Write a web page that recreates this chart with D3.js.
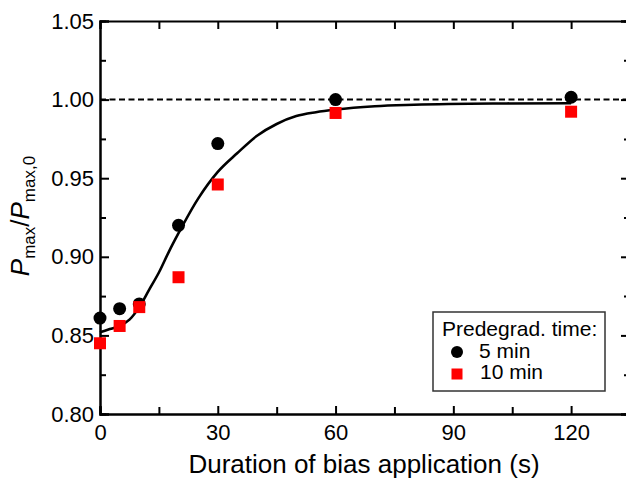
<!DOCTYPE html>
<html>
<head>
<meta charset="utf-8">
<script src="https://cdn.jsdelivr.net/npm/d3@7"></script>
<style>
  body { margin: 0; background: #fff; }
  svg { font-family: "Liberation Sans", Arial, Helvetica, sans-serif; }
</style>
</head>
<body>
<div class="canvas"></div>
<script>
// data
var durations = [0, 5, 10, 20, 30, 60, 120];
var pred5min = [0.861, 0.867, 0.870, 0.920, 0.972, 1.000, 1.0015];
var pred10min = [0.845, 0.856, 0.868, 0.887, 0.946, 0.9915, 0.9923];
// fitted curve (traced)
var fitX = [0, 2.5, 5, 7.5, 10, 12.5, 15, 17.5, 20, 25, 30, 35, 40, 45, 50, 55, 60, 70, 80, 100, 120];
var fitY = [0.852, 0.854, 0.856, 0.860, 0.868, 0.879, 0.890, 0.903, 0.915, 0.937, 0.954, 0.966, 0.977, 0.9845, 0.9895, 0.992, 0.9937, 0.9958, 0.9967, 0.9975, 0.9977];
var xTicks = [0, 30, 60, 90, 120];
var xMinor = [15, 45, 75, 105, 135];
var yTicks = [0.80, 0.85, 0.90, 0.95, 1.00, 1.05];
var yMinor = [0.825, 0.875, 0.925, 0.975, 1.025];
var legendTitle = "Predegrad. time:";
var seriesNames = ["5 min", "10 min"];

var svgWidth = 626, svgHeight = 481;
var plotL = 100, plotR = 630, plotT = 21, plotB = 414;

var svg = d3.select(".canvas").append("svg")
    .attr("width", svgWidth)
    .attr("height", svgHeight);

var x = d3.scaleLinear().domain([0, 135]).range([plotL, plotR]);
var y = d3.scaleLinear().domain([0.80, 1.05]).range([plotB, plotT]);

// axes, ticks pointing inward
svg.append("g").attr("transform", "translate(0," + plotB + ")")
    .call(d3.axisBottom(x).tickValues(xTicks).tickSize(-8).tickPadding(10).tickFormat(d3.format("d")));
svg.append("g").attr("transform", "translate(0," + plotB + ")")
    .call(d3.axisBottom(x).tickValues(xMinor).tickSize(-7).tickFormat(""));
svg.append("g").attr("transform", "translate(0," + plotT + ")")
    .call(d3.axisTop(x).tickValues(xTicks.concat(xMinor)).tickSize(-8).tickFormat(""));
svg.append("g").attr("transform", "translate(" + plotL + ",0)")
    .call(d3.axisLeft(y).tickValues(yTicks).tickSize(-9).tickPadding(6).tickFormat(d3.format(".2f")));
svg.append("g").attr("transform", "translate(" + plotL + ",0)")
    .call(d3.axisLeft(y).tickValues(yMinor).tickSize(-6).tickFormat(""));
svg.append("g").attr("transform", "translate(" + plotR + ",0)")
    .call(d3.axisRight(y).tickValues(yTicks).tickSize(-9).tickFormat(""));
svg.append("g").attr("transform", "translate(" + plotR + ",0)")
    .call(d3.axisRight(y).tickValues(yMinor).tickSize(-6).tickFormat(""));

svg.selectAll(".domain").attr("stroke", "#000").attr("stroke-width", 2);
svg.selectAll(".tick line").attr("stroke", "#000").attr("stroke-width", 2);
svg.selectAll(".tick text").attr("font-size", 22).attr("fill", "#000")
    .attr("font-family", "'Liberation Sans', Arial, sans-serif");

// reference line at 1.00
svg.append("line")
    .attr("x1", x(0)).attr("x2", plotR)
    .attr("y1", y(1.0)).attr("y2", y(1.0))
    .attr("stroke", "#000").attr("stroke-width", 2)
    .attr("stroke-dasharray", "6,3.5");

// fitted curve
var line = d3.line()
    .x(function(d) { return x(d[0]); })
    .y(function(d) { return y(d[1]); })
    .curve(d3.curveMonotoneX);
svg.append("path")
    .datum(d3.zip(fitX, fitY))
    .attr("d", line)
    .attr("fill", "none")
    .attr("stroke", "#000")
    .attr("stroke-width", 2.6);

// points
svg.selectAll("circle.p5")
    .data(d3.zip(durations, pred5min))
    .enter().append("circle")
    .attr("class", "p5")
    .attr("cx", function(d) { return x(d[0]); })
    .attr("cy", function(d) { return y(d[1]); })
    .attr("r", 6.5)
    .attr("fill", "#000");

var sq = 12;
svg.selectAll("rect.p10")
    .data(d3.zip(durations, pred10min))
    .enter().append("rect")
    .attr("class", "p10")
    .attr("x", function(d) { return x(d[0]) - sq / 2; })
    .attr("y", function(d) { return y(d[1]) - sq / 2; })
    .attr("width", sq)
    .attr("height", sq)
    .attr("fill", "#ff0000");

// axis titles
svg.append("text")
    .attr("x", 364).attr("y", 473)
    .attr("text-anchor", "middle")
    .attr("font-size", 26)
    .text("Duration of bias application (s)");

var yl = svg.append("text")
    .attr("transform", "translate(29,216) rotate(-90)")
    .attr("text-anchor", "middle")
    .attr("font-size", 26);
yl.append("tspan").attr("font-style", "italic").text("P");
yl.append("tspan").attr("font-size", 17).attr("dy", 6).text("max");
yl.append("tspan").attr("dy", -6).text("/");
yl.append("tspan").attr("font-style", "italic").text("P");
yl.append("tspan").attr("font-size", 17).attr("dy", 6).text("max,0");

// legend
var lg = svg.append("g");
lg.append("rect")
    .attr("x", 433).attr("y", 312).attr("width", 172).attr("height", 79)
    .attr("fill", "#fff").attr("stroke", "#333").attr("stroke-width", 1.5);
lg.append("text").attr("x", 442).attr("y", 336).attr("font-size", 21).text(legendTitle);
lg.append("circle").attr("cx", 457).attr("cy", 352).attr("r", 6).attr("fill", "#000");
lg.append("text").attr("x", 479).attr("y", 358).attr("font-size", 21).text(seriesNames[0]);
lg.append("rect").attr("x", 451.5).attr("y", 368.5).attr("width", 11).attr("height", 11).attr("fill", "#ff0000");
lg.append("text").attr("x", 480).attr("y", 379).attr("font-size", 21).text(seriesNames[1]);
</script>
</body>
</html>
